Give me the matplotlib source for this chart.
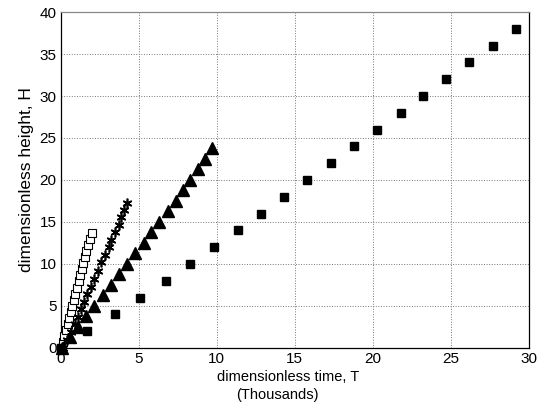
import matplotlib
matplotlib.use("Agg")
import matplotlib.pyplot as plt

# filled squares
sq_T = [0, 1.7, 3.48, 5.08, 6.73, 8.29, 9.81, 11.37, 12.86, 14.3, 15.8, 17.3,
        18.8, 20.26, 21.8, 23.2, 24.7, 26.15, 27.7, 29.2]
sq_H = [0, 2, 4, 6, 8, 10, 12, 14, 16, 18, 20, 22, 24, 26, 28, 30, 32, 34, 36, 38]

# filled triangles
tr_T = [0.05, 0.58, 1.09, 1.63, 2.14, 2.67, 3.19, 3.72, 4.25, 4.78, 5.31, 5.8,
        6.3, 6.86, 7.35, 7.82, 8.29, 8.76, 9.21, 9.68]
tr_H = [0, 1.25, 2.5, 3.75, 5, 6.25, 7.5, 8.75, 10, 11.25, 12.5, 13.75, 15,
        16.25, 17.5, 18.75, 20, 21.25, 22.5, 23.75]

# stars
st_T = [0.15, 0.4, 0.66, 0.88, 1.09, 1.32, 1.49, 1.69, 1.92, 2.14, 2.35, 2.58,
        2.82, 3.06, 3.23, 3.5, 3.7, 3.87, 4.04, 4.25]
st_H = [0, 0.95, 1.9, 2.8, 3.7, 4.65, 5.5, 6.4, 7.3, 8.25, 9.2, 10.2, 11.1,
        12.0, 12.9, 13.8, 14.7, 15.6, 16.4, 17.3]

# hollow squares
ho_T = [0, 0.12, 0.22, 0.33, 0.43, 0.53, 0.63, 0.73, 0.83, 0.93, 1.03, 1.13,
        1.23, 1.33, 1.43, 1.53, 1.63, 1.73, 1.85, 1.98]
ho_H = [0, 0.72, 1.44, 2.16, 2.88, 3.6, 4.32, 5.04, 5.76, 6.48, 7.2, 7.92,
        8.64, 9.36, 10.08, 10.8, 11.52, 12.24, 12.96, 13.68]

x_ticks = [0, 5, 10, 15, 20, 25, 30]
y_ticks = [0, 5, 10, 15, 20, 25, 30, 35, 40]

plt.rcParams['font.family'] = ['Liberation Sans', 'DejaVu Sans']

W, H = 539, 407
fig = plt.figure(figsize=(W / 100, H / 100), dpi=100)
ax = fig.add_axes([0.113, 0.145, 0.868, 0.8255])

ax.plot(ho_T, ho_H, linestyle='none', marker='s', markersize=6.2,
        markerfacecolor='white', markeredgecolor='black', markeredgewidth=0.8,
        clip_on=False, zorder=3)
ax.plot(st_T, st_H, linestyle='none', marker=(6, 2, 0), markersize=7,
        color='black', markeredgewidth=1.2, clip_on=False, zorder=3)
ax.plot(tr_T, tr_H, linestyle='none', marker='^', markersize=8,
        color='black', clip_on=False, zorder=3)
ax.plot(sq_T, sq_H, linestyle='none', marker='s', markersize=5.5,
        color='black', clip_on=False, zorder=3)

ax.set_xlim(0, 30)
ax.set_ylim(0, 40)
ax.set_xticks(x_ticks)
ax.set_yticks(y_ticks)
ax.tick_params(axis='both', length=0, labelsize=11, pad=3, colors='black')
ax.grid(True, linestyle=':', color='#777777', linewidth=0.7)
for s in ax.spines.values():
    s.set_linewidth(0.9)
ax.spines['top'].set_color('#888888')

fig.text(288 / W, 1 - 377 / H, 'dimensionless time, T', fontsize=10.5,
         ha='center', va='center')
fig.text(277 / W, 1 - 395 / H, '(Thousands)', fontsize=10.5,
         ha='center', va='center')
fig.text(27 / W, 1 - 180 / H, 'dimensionless height, H', fontsize=12.5,
         ha='center', va='center', rotation=90)

fig.savefig('out.png', dpi=100)
